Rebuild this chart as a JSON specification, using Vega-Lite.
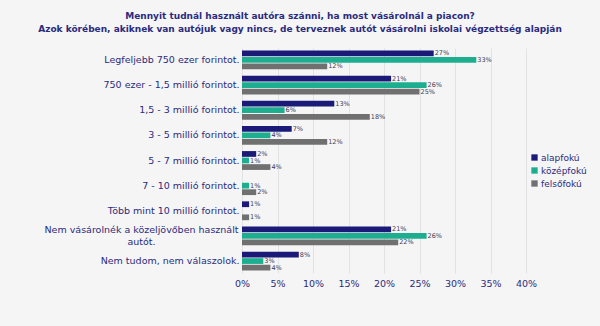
{
  "$schema": "https://vega.github.io/schema/vega-lite/v6.json",
  "width": 284,
  "height": 225,
  "autosize": {"type": "none"},
  "padding": {"left": 242, "top": 48, "right": 74, "bottom": 53},
  "background": "#f5f5f5",
  "title": {
    "text": ["Mennyit tudnál használt autóra szánni, ha most vásárolnál a piacon?", "Azok körében, akiknek van autójuk vagy nincs, de terveznek autót vásárolni iskolai végzettség alapján"],
    "anchor": "middle",
    "frame": "group",
    "dx": -84,
    "offset": 14,
    "font": "DejaVu Sans",
    "fontSize": 9,
    "fontWeight": "bold",
    "color": "#2b2b7e",
    "lineHeight": 13
  },
  "config": {
    "view": {"stroke": null},
    "font": "DejaVu Sans"
  },
  "data": {
    "values": [
      {"kat": "Legfeljebb 750 ezer forintot.", "v": "alapfokú", "p": 27},
      {"kat": "Legfeljebb 750 ezer forintot.", "v": "középfokú", "p": 33},
      {"kat": "Legfeljebb 750 ezer forintot.", "v": "felsőfokú", "p": 12},
      {"kat": "750 ezer - 1,5 millió forintot.", "v": "alapfokú", "p": 21},
      {"kat": "750 ezer - 1,5 millió forintot.", "v": "középfokú", "p": 26},
      {"kat": "750 ezer - 1,5 millió forintot.", "v": "felsőfokú", "p": 25},
      {"kat": "1,5 - 3 millió forintot.", "v": "alapfokú", "p": 13},
      {"kat": "1,5 - 3 millió forintot.", "v": "középfokú", "p": 6},
      {"kat": "1,5 - 3 millió forintot.", "v": "felsőfokú", "p": 18},
      {"kat": "3 - 5 millió forintot.", "v": "alapfokú", "p": 7},
      {"kat": "3 - 5 millió forintot.", "v": "középfokú", "p": 4},
      {"kat": "3 - 5 millió forintot.", "v": "felsőfokú", "p": 12},
      {"kat": "5 - 7 millió forintot.", "v": "alapfokú", "p": 2},
      {"kat": "5 - 7 millió forintot.", "v": "középfokú", "p": 1},
      {"kat": "5 - 7 millió forintot.", "v": "felsőfokú", "p": 4},
      {"kat": "7 - 10 millió forintot.", "v": "középfokú", "p": 1},
      {"kat": "7 - 10 millió forintot.", "v": "felsőfokú", "p": 2},
      {"kat": "Több mint 10 millió forintot.", "v": "alapfokú", "p": 1},
      {"kat": "Több mint 10 millió forintot.", "v": "felsőfokú", "p": 1},
      {"kat": "Nem vásárolnék a közeljövőben használt autót.", "v": "alapfokú", "p": 21},
      {"kat": "Nem vásárolnék a közeljövőben használt autót.", "v": "középfokú", "p": 26},
      {"kat": "Nem vásárolnék a közeljövőben használt autót.", "v": "felsőfokú", "p": 22},
      {"kat": "Nem tudom, nem válaszolok.", "v": "alapfokú", "p": 8},
      {"kat": "Nem tudom, nem válaszolok.", "v": "középfokú", "p": 3},
      {"kat": "Nem tudom, nem válaszolok.", "v": "felsőfokú", "p": 4}
    ]
  },
  "transform": [{"calculate": "datum.p + '%'", "as": "lbl"}],
  "encoding": {
    "y": {
      "field": "kat",
      "type": "nominal",
      "sort": null,
      "scale": {
        "domain": ["Legfeljebb 750 ezer forintot.", "750 ezer - 1,5 millió forintot.", "1,5 - 3 millió forintot.", "3 - 5 millió forintot.", "5 - 7 millió forintot.", "7 - 10 millió forintot.", "Több mint 10 millió forintot.", "Nem vásárolnék a közeljövőben használt autót.", "Nem tudom, nem válaszolok."],
        "paddingInner": 0.25,
        "paddingOuter": 0.1
      },
      "axis": {
        "title": null,
        "domain": false,
        "ticks": false,
        "labelFontSize": 9.5,
        "labelColor": "#2b2b7e",
        "labelLimit": 300,
        "labelLineHeight": 12,
        "labelExpr": "datum.value == 'Nem vásárolnék a közeljövőben használt autót.' ? ['Nem vásárolnék a közeljövőben használt', 'autót.'] : datum.value",
        "labelAlign": {"condition": {"test": "datum.value == 'Nem vásárolnék a közeljövőben használt autót.'", "value": "center"}, "value": "right"},
        "labelPadding": {"condition": {"test": "datum.value == 'Nem vásárolnék a közeljövőben használt autót.'", "value": 101}, "value": 3},
        "labelOffset": {"condition": {"test": "datum.value == 'Nem vásárolnék a közeljövőben használt autót.'", "value": -6}, "value": 0}
      }
    },
    "yOffset": {
      "field": "v",
      "type": "nominal",
      "scale": {"domain": ["alapfokú", "középfokú", "felsőfokú"], "paddingInner": 0.12}
    },
    "x": {
      "field": "p",
      "type": "quantitative",
      "scale": {"domain": [0, 40]},
      "axis": {
        "title": null,
        "values": [0, 5, 10, 15, 20, 25, 30, 35, 40],
        "labelExpr": "datum.value + '%'",
        "labelFlush": false,
        "domain": false,
        "ticks": false,
        "grid": true,
        "gridColor": "#e2e2e2",
        "labelFontSize": 9.5,
        "labelColor": "#2b2b7e",
        "labelPadding": 5
      }
    }
  },
  "layer": [
    {
      "mark": {"type": "bar"},
      "encoding": {
        "color": {
          "field": "v",
          "type": "nominal",
          "scale": {"domain": ["alapfokú", "középfokú", "felsőfokú"], "range": ["#1b1a78", "#1cae8e", "#707070"]},
          "legend": {
            "title": null,
            "orient": "none",
            "legendX": 288,
            "legendY": 105,
            "symbolType": "square",
            "symbolSize": 40,
            "symbolStrokeWidth": 0,
            "labelFontSize": 9,
            "labelColor": "#2b2b7e",
            "rowPadding": 3,
            "labelOffset": 2
          }
        }
      }
    },
    {
      "mark": {"type": "text", "align": "left", "dx": 1, "fontSize": 6.5, "color": "#3a3a5a"},
      "encoding": {
        "text": {"field": "lbl", "type": "nominal"},
        "detail": {"field": "v"}
      }
    }
  ]
}
